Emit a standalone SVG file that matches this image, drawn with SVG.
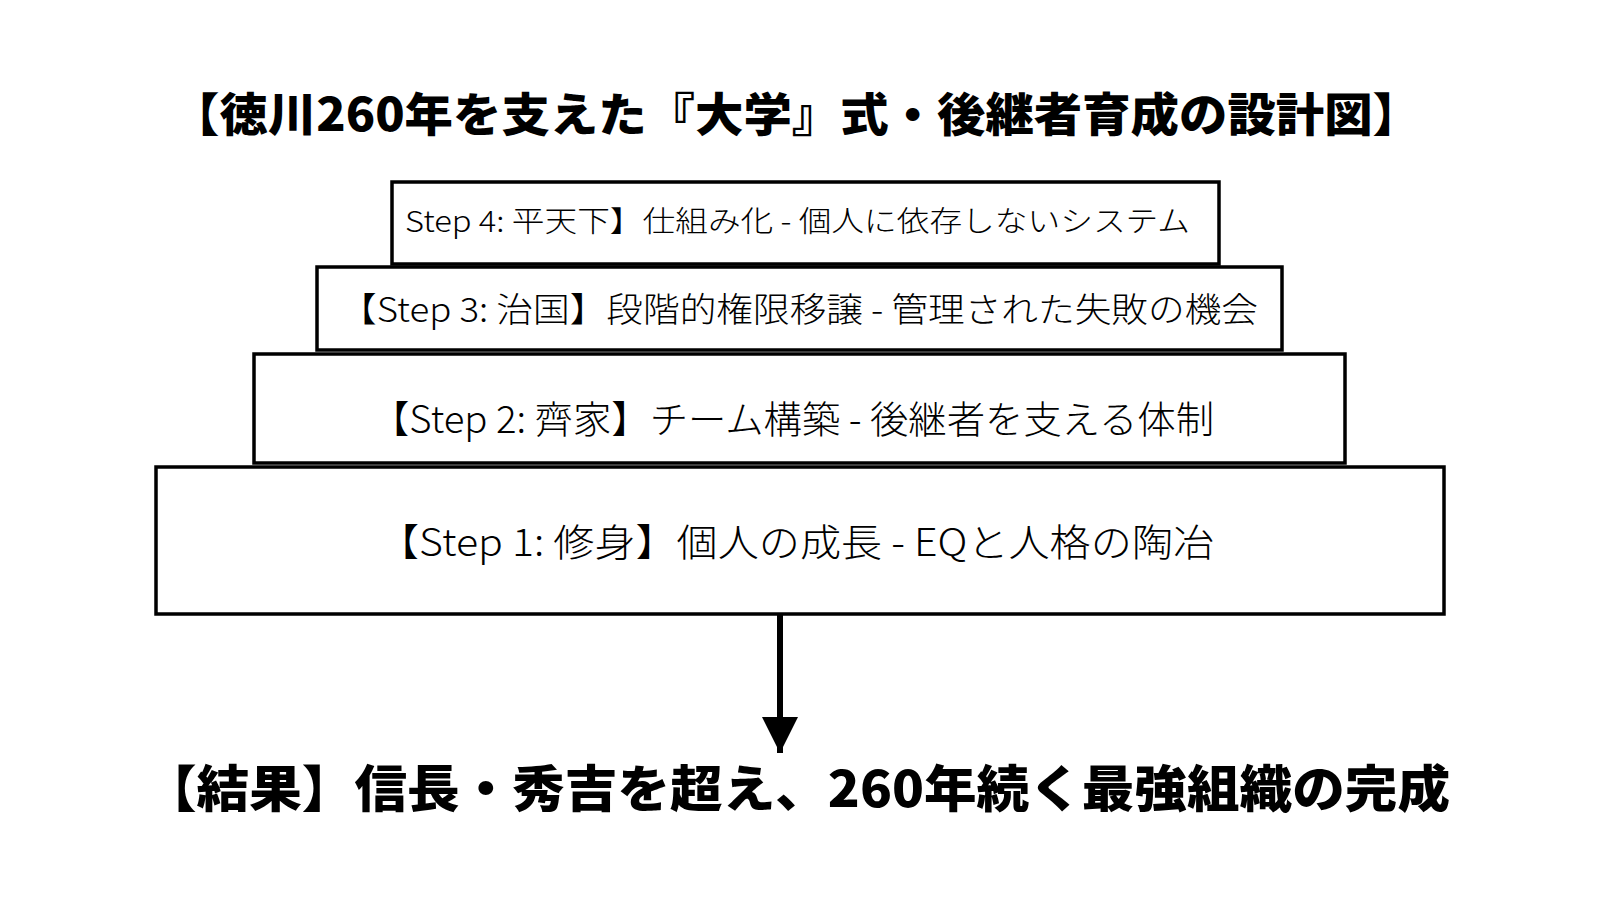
<svg xmlns="http://www.w3.org/2000/svg" width="1600" height="900" viewBox="0 0 1600 900">
<style>
.box{fill:#fff;stroke:#000;stroke-width:3.5}
.step{font-family:"Noto Sans CJK JP","Noto Sans",sans-serif;font-weight:300;fill:#000;dominant-baseline:central}
.head{font-family:"Noto Sans CJK JP","Noto Sans",sans-serif;font-weight:900;fill:#000;dominant-baseline:central;text-anchor:middle}
.conn{stroke:#000;stroke-width:6;fill:none}
</style>
<defs>
<marker id="ah" markerUnits="userSpaceOnUse" markerWidth="36" markerHeight="40" refX="36" refY="18" orient="auto">
<path d="M0,0 L36,18 L0,36 Z" fill="#000"/>
</marker>
</defs>
<rect width="1600" height="900" fill="#fff"/>
<g id="title">
<text class="head" x="796" y="111" font-size="46" textLength="1250" lengthAdjust="spacingAndGlyphs">【徳川260年を支えた『大学』式・後継者育成の設計図】</text>
</g>
<g id="step4">
<rect class="box" x="392" y="182" width="827" height="82"/>
<text class="step" x="405" y="219" font-size="29" textLength="785" lengthAdjust="spacingAndGlyphs">Step 4: 平天下】仕組み化 - 個人に依存しないシステム</text>
</g>
<g id="step3">
<rect class="box" x="317" y="267" width="965" height="83"/>
<text class="step" x="340" y="307" font-size="34" textLength="918" lengthAdjust="spacingAndGlyphs">【Step 3: 治国】段階的権限移譲 - 管理された失敗の機会</text>
</g>
<g id="step2">
<rect class="box" x="254" y="354" width="1091" height="109"/>
<text class="step" x="371" y="416" font-size="38" textLength="843" lengthAdjust="spacingAndGlyphs">【Step 2: 齊家】チーム構築 - 後継者を支える体制</text>
</g>
<g id="step1">
<rect class="box" x="156" y="467" width="1288" height="147"/>
<text class="step" x="378" y="539" font-size="38" textLength="836" lengthAdjust="spacingAndGlyphs">【Step 1: 修身】個人の成長 - EQと人格の陶冶</text>
</g>
<g id="connectors">
<line class="conn" x1="780" y1="615" x2="780" y2="753" marker-end="url(#ah)"/>
</g>
<g id="result">
<text class="head" x="797" y="785" font-size="50" textLength="1306" lengthAdjust="spacingAndGlyphs">【結果】信長・秀吉を超え、260年続く最強組織の完成</text>
</g>
</svg>
